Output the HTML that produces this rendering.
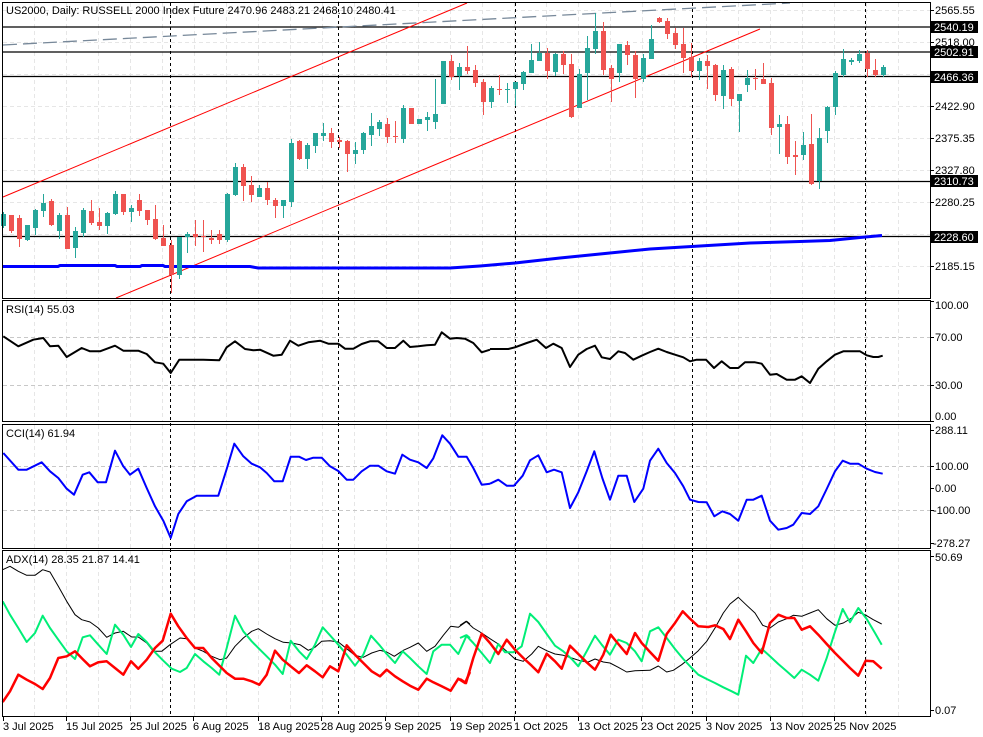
<!DOCTYPE html>
<html><head><meta charset="utf-8"><style>
body{margin:0;background:#fff;width:983px;height:737px;overflow:hidden}
svg{display:block;font-family:"Liberation Sans",sans-serif;font-size:11px}
</style></head><body>
<svg id="s" width="983" height="737" xmlns="http://www.w3.org/2000/svg">
<rect width="983" height="737" fill="#fff"/>
<g id="grid"></g>
<g id="ov"></g>
<g id="cd"></g>
<g id="ln"></g>
<!-- panel frames -->
<g fill="none" stroke="#000" stroke-width="1">
<rect x="2.5" y="2.5" width="928" height="296"/>
<rect x="2.5" y="300.5" width="928" height="121"/>
<rect x="2.5" y="424.5" width="928" height="124"/>
<rect x="2.5" y="550.5" width="928" height="166"/>
</g>
<g fill="#000">
<text x="6" y="14">US2000, Daily:  RUSSELL 2000 Index Future  2470.96 2483.21 2468.10 2480.41</text>
<text x="6" y="313">RSI(14) 55.03</text>
<text x="6" y="437">CCI(14) 61.94</text>
<text x="6" y="563">ADX(14) 28.35 21.87 14.41</text>
</g>
<g id="ticks" stroke="#000"></g>
<g fill="#000">
<text x="935" y="14">2565.55</text>
<text x="935" y="46">2518.00</text>
<text x="935" y="110">2422.90</text>
<text x="935" y="142">2375.35</text>
<text x="935" y="174">2327.80</text>
<text x="935" y="206">2280.25</text>
<text x="935" y="270">2185.15</text>
<text x="935" y="309">100.00</text>
<text x="935" y="341">70.00</text>
<text x="935" y="389">30.00</text>
<text x="935" y="420">0.00</text>
<text x="935" y="434">288.11</text>
<text x="935" y="470">100.00</text>
<text x="935" y="492">0.00</text>
<text x="933" y="514">-100.00</text>
<text x="933" y="547">-278.27</text>
<text x="935" y="561">50.69</text>
<text x="935" y="714">0.07</text>
</g>
<g fill="#000">
<rect x="931" y="21" width="47" height="12"/>
<rect x="931" y="46" width="47" height="12"/>
<rect x="931" y="71" width="47" height="12"/>
<rect x="931" y="175" width="47" height="12"/>
<rect x="931" y="231" width="47" height="12"/>
</g>
<g fill="#fff">
<text x="934" y="31">2540.19</text>
<text x="934" y="56">2502.91</text>
<text x="934" y="81">2466.36</text>
<text x="934" y="185">2310.73</text>
<text x="934" y="241">2228.60</text>
</g>
<g fill="#000">
<text x="3" y="730">3 Jul 2025</text>
<text x="66" y="730">15 Jul 2025</text>
<text x="130" y="730">25 Jul 2025</text>
<text x="193" y="730">6 Aug 2025</text>
<text x="258" y="730">18 Aug 2025</text>
<text x="321" y="730">28 Aug 2025</text>
<text x="385" y="730">9 Sep 2025</text>
<text x="450" y="730">19 Sep 2025</text>
<text x="514" y="730">1 Oct 2025</text>
<text x="578" y="730">13 Oct 2025</text>
<text x="641" y="730">23 Oct 2025</text>
<text x="706" y="730">3 Nov 2025</text>
<text x="770" y="730">13 Nov 2025</text>
<text x="834" y="730">25 Nov 2025</text>
</g>
</svg>
<script>
var NS="http://www.w3.org/2000/svg";
function el(p,t,a){var e=document.createElementNS(NS,t);for(var k in a)e.setAttribute(k,a[k]);document.getElementById(p).appendChild(e);return e;}
// grid
for(var x=34.5;x<930;x+=32){
 [[3,298],[301,421],[425,548],[551,716]].forEach(function(r){el('grid','line',{x1:x,x2:x,y1:r[0],y2:r[1],stroke:'#e6e6e6','stroke-dasharray':'4,3'});});
}
[10,42,74,106,138,170,202,234,266].forEach(function(y){el('grid','line',{x1:3,x2:930,y1:y+.5,y2:y+.5,stroke:'#e6e6e6','stroke-dasharray':'4,3'});});
[337.5,385.5,466.5,510.5].forEach(function(y){el('grid','line',{x1:3,x2:930,y1:y,y2:y,stroke:'#c8c8c8','stroke-dasharray':'4,3'});});
// vertical separators
[170.5,338.5,515.5,692.5,865.5].forEach(function(x){el('ov','line',{x1:x,x2:x,y1:3,y2:716,stroke:'#000','stroke-dasharray':'3,3'});});
// horizontal levels
[27,52,76.5,181.5,236.5].forEach(function(y){el('ov','line',{x1:3,x2:930,y1:y,y2:y,stroke:'#000','stroke-width':1.3});});
// channels
el('ov','line',{x1:3,y1:197,x2:467,y2:3,stroke:'#f00','stroke-width':1});
el('ov','line',{x1:116,y1:298,x2:760,y2:29,stroke:'#f00','stroke-width':1});
el('ov','line',{x1:3,y1:45,x2:790,y2:3,stroke:'#778899','stroke-width':1.3,'stroke-dasharray':'14,6'});
// MA
el('ov','polyline',{points:'3,266.5 58,266.5 60,265.5 115,265.5 117,266.5 140,266.5 142,265.5 163,265.5 165,266.5 250,266.5 258,268 450,268 480,266 515,263 560,258 600,254 650,249 700,246 750,243 800,241.5 830,240.5 860,237.5 882,235.5',fill:'none',stroke:'#0000ff','stroke-width':3});
// ticks on right axis
[10,42,106,138,170,202,266,301,337,385,421,430,466,488,510,543,556,710].forEach(function(y){el('ticks','line',{x1:930,x2:934,y1:y+.5,y2:y+.5});});
[3,66,130,193,258,321,385,450,514,578,641,706,770,834].forEach(function(x){el('ticks','line',{x1:x+.5,x2:x+.5,y1:717,y2:721});});
// candles: [green, bodyTop, bodyBot, wickTop, wickBot]
var C=[[1,214,226,212,228],[0,215,231,215,233],[0,218,239,215,247],[1,225,240,225,241],[1,210,228,209,235],[1,203,211,194,217],[0,201,225,199,226],[1,215,231,213,239],[0,215,249,207,249],[1,231,248,227,258],
[1,210,233,208,237],[0,211,223,200,225],[0,222,226,208,230],[1,213,226,212,234],[1,194,214,191,215],[0,194,212,194,215],[1,208,212,205,222],[0,200,211,194,216],[0,210,220,210,225],[0,219,239,205,240],
[0,238,246,225,246],[0,245,275,240,293],[1,237,275,237,279],[1,234,237,232,253],[0,234,237,220,246],[0,236,237,220,252],[0,238,240,230,244],[0,234,240,230,244],[1,194,240,193,242],[1,167,195,163,196],
[0,167,186,164,201],[0,185,195,176,202],[1,188,197,185,197],[0,188,200,182,205],[0,200,206,198,218],[1,200,206,200,218],[1,143,202,139,207],[0,141,159,140,160],[1,145,159,143,169],[1,133,146,133,153],
[1,133,136,123,141],[0,133,142,128,148],[0,140,142,137,148],[0,141,154,140,172],[1,150,154,142,164],[1,133,150,132,154],[1,126,135,113,146],[1,122,129,120,136],[0,124,137,118,143],[0,136,137,121,143],
[1,108,139,105,143],[0,108,124,108,124],[1,119,124,119,124],[1,117,120,112,131],[1,114,122,79,129],[1,61,104,61,104],[0,61,77,55,80],[1,67,76,63,90],[0,67,71,46,74],[0,70,83,65,87],
[0,82,102,79,115],[1,88,102,86,108],[0,89,90,75,95],[1,89,90,83,103],[1,82,89,82,106],[1,72,84,71,90],[1,60,73,44,73],[1,53,61,42,61],[0,53,71,48,79],[1,54,72,53,76],
[0,54,65,51,74],[0,64,117,54,118],[1,74,108,69,108],[1,48,73,36,100],[1,31,49,13,54],[0,31,70,22,75],[0,68,79,65,102],[1,44,73,44,82],[0,45,55,41,65],[0,55,79,51,98],
[1,58,79,54,82],[1,39,59,25,59],[0,18,22,17,23],[0,21,34,18,39],[0,33,45,28,49],[0,44,58,28,73],[0,57,71,43,77],[1,61,71,58,80],[0,61,66,55,89],[0,65,95,64,101],
[1,70,96,65,109],[0,69,99,67,106],[1,94,101,94,132],[1,78,85,70,92],[0,78,79,69,90],[0,79,84,63,84],[0,83,128,78,135],[1,124,127,115,154],[0,124,157,116,164],[0,155,157,141,175],
[1,145,155,132,160],[0,144,184,114,185],[1,138,181,128,189],[1,107,131,106,143],[1,73,107,71,115],[1,59,75,49,77],[1,60,62,58,65],[1,54,61,50,63],[0,53,69,50,77],[0,70,75,59,77],[1,67,75,65,77]];
C.forEach(function(c,i){var x=3+8*i;var col=c[0]?'#26a69a':'#ef5350';
 el('cd','rect',{x:x,y:c[3],width:1,height:Math.max(1,c[4]-c[3]),fill:col});
 el('cd','rect',{x:x-2,y:c[1],width:5,height:Math.max(1,c[2]-c[1]),fill:col});});
function pl(arr,ox,oy,col,w){var p=[];for(var i=0;i<arr.length;i+=2)p.push((ox+arr[i]/3).toFixed(1)+','+(oy+arr[i+1]/3).toFixed(1));el('ln','polyline',{points:p.join(' '),fill:'none',stroke:col,'stroke-width':w,'stroke-linejoin':'round'});}
// RSI
pl([10,115,55,145,100,125,130,120,150,145,175,143,200,177,245,150,270,160,300,160,345,143,370,158,415,158,440,168,465,193,490,197,512,225,538,185,610,185,658,187,680,148,705,130,735,153,760,157,780,155,820,173,845,170,870,128,895,143,925,133,960,128,985,137,1015,137,1035,152,1060,152,1085,138,1110,130,1135,130,1160,150,1185,150,1210,128,1230,147,1255,145,1280,142,1305,140,1325,103,1350,122,1370,120,1395,122,1420,135,1445,163,1470,155],0,298,'#000',2);
pl([0,153,55,153,75,148,110,135,140,125,168,150,190,137,215,150,240,207,265,170,290,153,315,143,335,178,360,183,385,160,405,165,430,185,455,173,480,162,505,152,530,162,555,170,580,178,600,190,620,185,648,185,672,210,695,190,720,210,745,210,765,193,795,193,815,197,840,230,860,228,890,245,915,245,935,235,960,255,985,212,1010,190,1035,170,1060,160,1110,160,1130,172,1150,177,1165,177,1178,173],490,298,'#000',2);
// CCI
pl([10,465,55,515,80,515,125,493,150,520,175,540,200,572,222,590,248,530,268,523,293,553,318,553,345,458,370,505,390,530,415,512,440,570,465,625,490,668,512,720,535,648,560,610,590,593,655,593,680,513,703,437,730,475,755,497,780,508,800,525,823,550,848,550,872,476,897,476,918,486,940,479,965,479,990,505,1015,519,1040,545,1060,545,1085,520,1110,503,1135,503,1160,520,1185,527,1207,470,1230,485,1255,493,1280,510,1300,481,1327,412,1350,437,1375,476,1400,476,1420,510,1445,560,1470,557],0,298,'#0000ff',2);
pl([0,557,25,545,50,563,72,563,98,533,120,487,145,472,170,523,192,515,215,523,240,630,265,583,290,520,313,460,337,540,360,605,385,533,410,533,433,612,460,572,480,488,505,452,530,495,555,525,580,565,600,605,625,612,650,613,673,655,697,640,720,648,745,668,770,605,790,605,815,593,840,668,865,695,890,690,910,680,935,645,960,648,985,625,1010,573,1035,520,1058,488,1080,497,1105,497,1130,512,1155,522,1178,527],490,298,'#0000ff',2);
// ADX
pl([8,65,30,55,55,70,80,82,105,82,128,65,150,72,175,115,200,160,225,200,245,215,270,222,295,240,320,268,345,255,370,250,395,267,415,267,440,285,460,310,485,310,510,290,540,270,560,272,585,300,610,310,635,325,660,335,680,330,705,295,730,270,755,250,775,242,800,258,825,272,850,283,875,285,900,290,925,307,945,298,965,280,990,278,1015,282,1040,302,1065,322,1090,328,1115,315,1140,307,1160,312,1183,325,1210,307,1230,298,1255,285,1280,310,1305,295,1330,262,1352,235,1375,238,1400,220,1410,228],0,548,'#000',1);
pl([0,232,18,220,40,240,65,255,90,272,115,288,140,310,165,333,190,340,215,318,235,295,260,308,285,318,310,322,335,330,360,338,385,342,405,333,430,342,450,345,475,358,500,372,525,368,570,367,595,354,620,372,640,367,665,350,690,330,715,308,740,280,765,240,790,195,810,168,835,148,860,172,885,195,908,232,930,240,955,222,980,212,1000,202,1025,205,1050,195,1075,185,1100,212,1125,232,1150,225,1175,210,1195,193,1215,200,1240,215,1265,228],460,548,'#000',1);
pl([8,160,30,200,55,240,80,282,105,255,128,203,150,240,175,275,200,310,225,333,248,268,270,262,295,290,320,318,345,230,370,260,393,297,415,258,440,282,465,313,490,338,515,362,540,372,560,360,585,318,610,340,635,360,658,380,680,300,705,203,730,250,755,280,780,305,800,325,825,350,848,378,872,278,897,310,920,333,945,290,968,238,990,262,1015,290,1040,320,1065,353,1090,320,1113,263,1140,293,1160,318,1185,345,1208,310,1230,330,1255,355,1280,378,1300,310,1325,290,1350,290,1375,318,1400,262,1410,270],0,548,'#00ee77',2);
pl([0,270,18,262,40,285,65,315,90,345,115,288,135,313,160,313,185,295,210,197,235,222,260,258,285,293,310,310,335,333,355,355,380,310,405,263,425,290,450,320,475,275,500,285,525,310,545,340,570,250,595,238,620,270,645,303,670,333,695,360,715,380,740,393,765,405,790,418,815,430,835,440,858,323,880,345,905,302,930,325,955,348,980,370,1003,390,1025,365,1050,380,1075,398,1100,330,1122,260,1148,183,1170,223,1195,180,1220,213,1245,255,1265,290],460,548,'#00ee77',2);
pl([8,462,30,430,55,380,80,395,105,408,128,423,150,390,175,330,200,325,225,310,250,335,270,355,295,343,320,340,345,360,370,380,393,340,415,362,440,335,465,300,488,278,512,197,535,235,560,270,585,300,610,300,635,330,660,355,680,375,705,392,730,392,755,400,778,410,800,380,825,308,848,335,872,355,897,375,920,352,945,370,968,388,990,355,1015,370,1040,292,1065,320,1090,345,1115,370,1140,385,1160,365,1185,385,1208,400,1230,413,1255,425,1280,392,1300,403,1325,415,1352,428,1375,392,1395,405,1410,372],0,548,'#ff0000',2.5);
pl([0,393,18,405,40,330,65,257,90,285,115,318,140,275,165,305,190,330,215,353,235,373,260,317,285,340,305,362,330,293,355,318,380,343,405,365,430,320,452,260,475,288,500,318,525,255,545,285,570,312,595,338,620,258,645,225,668,190,690,212,715,235,745,237,765,232,790,243,810,273,835,215,858,250,880,285,905,315,930,225,955,200,980,210,1003,210,1025,245,1050,235,1075,260,1100,288,1125,315,1150,340,1170,360,1195,383,1217,338,1240,340,1265,362],460,548,'#ff0000',2.5);
</script>
</body></html>
